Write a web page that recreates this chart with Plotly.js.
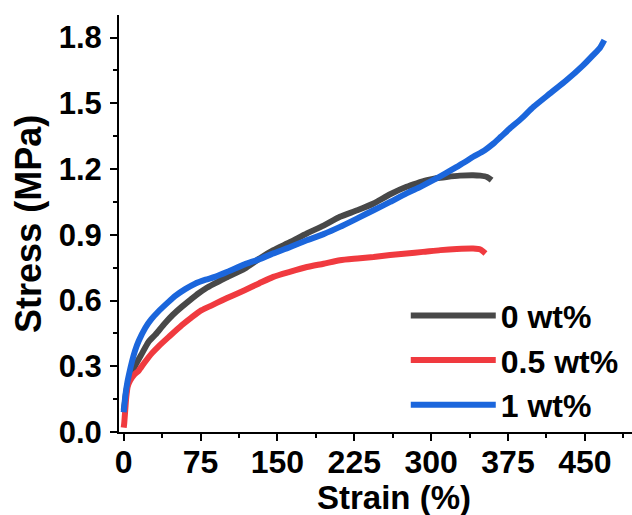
<!DOCTYPE html>
<html>
<head>
<meta charset="utf-8">
<script src="https://cdn.plot.ly/plotly-3.0.1.min.js"></script>
<style>
html,body{margin:0;padding:0;background:#fff;}
#chart{width:632px;height:515px;}
</style>
</head>
<body>
<div id="chart"></div>
<script>
// Series names
const seriesNames = ["0 wt%", "0.5 wt%", "1 wt%"];

// 0 wt% (dark grey)
const strain0 = [0, 1, 2, 4, 6, 8, 12, 18, 24, 31, 40, 48, 56.6, 65, 72.8, 80, 89, 100, 118, 132, 146, 162, 178.7, 195, 211, 228, 243.8, 260, 276, 286, 296, 305, 315, 328, 341, 348, 354.5, 359];
const stress0 = [0.10, 0.13, 0.17, 0.22, 0.25, 0.27, 0.31, 0.36, 0.41, 0.445, 0.495, 0.535, 0.571, 0.603, 0.632, 0.655, 0.678, 0.705, 0.746, 0.79, 0.83, 0.866, 0.906, 0.942, 0.982, 1.012, 1.043, 1.085, 1.119, 1.135, 1.149, 1.158, 1.164, 1.170, 1.172, 1.170, 1.164, 1.149];

// 0.5 wt% (red)
const strain05 = [0, 0.5, 1, 1.8, 2.5, 4, 6.4, 10, 14.6, 20, 27.6, 33.8, 44, 56.6, 66, 76, 86, 95.7, 106, 118, 132, 146, 162, 178.7, 195, 211, 228, 243.8, 260, 276, 292, 309, 325, 341, 348, 353];
const stress05 = [0.02, 0.04, 0.07, 0.12, 0.16, 0.21, 0.236, 0.26, 0.28, 0.315, 0.36, 0.39, 0.434, 0.487, 0.522, 0.556, 0.578, 0.60, 0.622, 0.647, 0.678, 0.708, 0.731, 0.753, 0.768, 0.784, 0.792, 0.799, 0.808, 0.815, 0.822, 0.83, 0.835, 0.837, 0.833, 0.815];

// 1 wt% (blue)
const strain1 = [0, 1, 2, 3.5, 5, 8, 11, 14.6, 21, 27, 33.8, 44, 50, 60, 69.6, 80, 89, 103, 118, 132, 146, 162, 178.7, 195, 211, 228, 243.8, 260, 276, 290, 302, 314, 325, 333, 341, 352, 361, 368, 377, 388, 400, 416, 432, 448, 458, 465, 469];
const stress1 = [0.09, 0.14, 0.18, 0.225, 0.26, 0.32, 0.37, 0.415, 0.475, 0.515, 0.55, 0.595, 0.62, 0.652, 0.677, 0.695, 0.708, 0.735, 0.765, 0.788, 0.815, 0.843, 0.875, 0.903, 0.936, 0.975, 1.012, 1.05, 1.089, 1.12, 1.149, 1.18, 1.21, 1.232, 1.256, 1.285, 1.317, 1.347, 1.386, 1.43, 1.484, 1.545, 1.605, 1.672, 1.72, 1.755, 1.788];

const colors = ["#484848", "#f03a3f", "#1b66dc"];

const traces = [
  {x: strain0, y: stress0, name: seriesNames[0]},
  {x: strain05, y: stress05, name: seriesNames[1]},
  {x: strain1, y: stress1, name: seriesNames[2]}
].map((t, i) => Object.assign(t, {
  type: "scatter", mode: "lines",
  line: {color: colors[i], width: 6, shape: "spline", smoothing: 0.6}
}));

const fontFam = "Liberation Sans, Arial, sans-serif";

const layout = {
  width: 632, height: 515,
  margin: {l: 119, r: 0, t: 15, b: 83},
  paper_bgcolor: "#ffffff",
  plot_bgcolor: "#ffffff",
  showlegend: true,
  legend: {
    x: 0.559, y: 0.345, xanchor: "left", yanchor: "top",
    bgcolor: "rgba(0,0,0,0)",
    font: {family: fontFam, size: 32, color: "#000", weight: "bold"},
    itemwidth: 85,
    tracegroupgap: 0
  },
  xaxis: {
    range: [-4.6, 496],
    showgrid: false, zeroline: false,
    showline: true, linecolor: "#000", linewidth: 2,
    tick0: 0, dtick: 75,
    ticks: "outside", ticklen: 7, tickwidth: 2, tickcolor: "#000",
    ticklabelstandoff: -6,
    minor: {ticks: "outside", ticklen: 4, tickwidth: 2, tickcolor: "#000", tick0: 0, dtick: 37.5},
    tickfont: {family: fontFam, size: 32, color: "#000", weight: "bold"}
  },
  yaxis: {
    range: [0, 1.903],
    showgrid: false, zeroline: false,
    showline: true, linecolor: "#000", linewidth: 2,
    tick0: 0, dtick: 0.3, tickformat: ".1f",
    ticks: "outside", ticklen: 7, tickwidth: 2, tickcolor: "#000",
    ticklabelstandoff: 2,
    minor: {ticks: "outside", ticklen: 4, tickwidth: 2, tickcolor: "#000", tick0: 0, dtick: 0.15},
    tickfont: {family: fontFam, size: 31, color: "#000", weight: "bold"}
  },
  annotations: [
    {text: "Strain (%)", xref: "paper", yref: "paper", x: (394 - 119) / 513, y: -0.158, xanchor: "center", yanchor: "middle",
     showarrow: false, font: {family: fontFam, size: 33, color: "#000", weight: "bold"}},
    {text: "Stress (MPa)", xref: "paper", yref: "paper", x: (29 - 119) / 513, y: 0.499, xanchor: "center", yanchor: "middle",
     textangle: -90, showarrow: false, font: {family: fontFam, size: 36, color: "#000", weight: "bold"}}
  ]
};

Plotly.newPlot("chart", traces, layout, {displayModeBar: false, staticPlot: true});
</script>
</body>
</html>
